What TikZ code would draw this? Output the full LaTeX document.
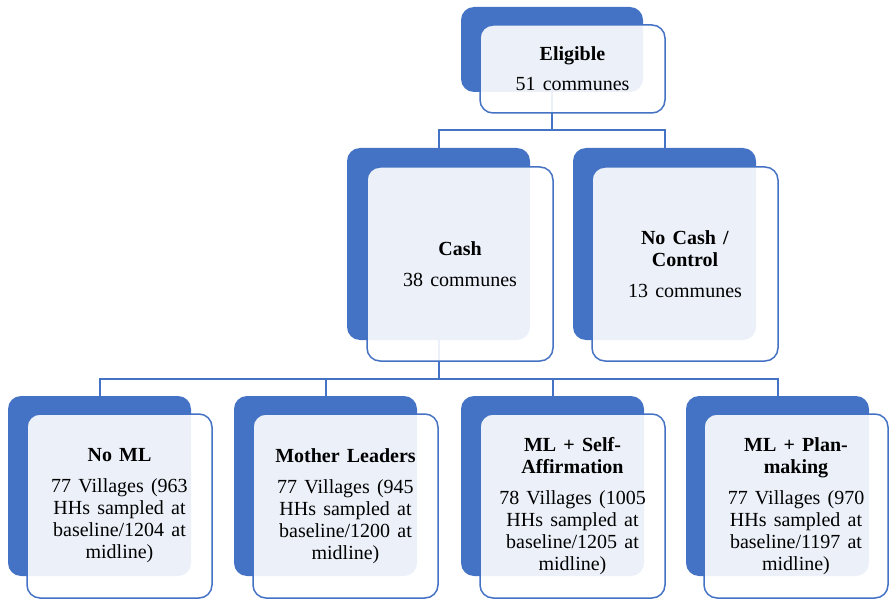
\documentclass[tikz,border=0pt]{standalone}
\usepackage{fontspec}
\setmainfont{Liberation Serif}
\definecolor{myblue}{HTML}{4472C4}
\newcommand\boxfontsetup{\fontsize{20}{22}\selectfont\spaceskip=0.36em\relax}
\begin{document}
\begin{tikzpicture}[x=1pt,y=-1pt,
  bluebox/.style={fill=myblue, rounded corners=13pt, inner sep=0pt, outer sep=0pt, anchor=north west},
  whitebox/.style={draw=myblue, line width=1.5pt, fill=white, fill opacity=0.9, text opacity=1,
    rounded corners=13pt, inner sep=0pt, outer sep=0pt, anchor=north west, align=center,
    font=\boxfontsetup},
  link/.style={draw=myblue, line width=2pt}]
\useasboundingbox (0,0) rectangle (889,599);
% junctions
\coordinate (j1) at (0,130);
\coordinate (j2) at (0,379);
% blue back boxes
\node[bluebox, minimum width=182pt, minimum height=85pt] (topblue) at (461,7) {};
\node[bluebox, minimum width=183pt, minimum height=192pt] (cashblue) at (347,148) {};
\node[bluebox, minimum width=183pt, minimum height=192pt] (ncblue) at (573,148) {};
\node[bluebox, minimum width=183pt, minimum height=180pt] (b1) at (8,396) {};
\node[bluebox, minimum width=183pt, minimum height=180pt] (b2) at (234,396) {};
\node[bluebox, minimum width=183pt, minimum height=180pt] (b3) at (461,396) {};
\node[bluebox, minimum width=183pt, minimum height=180pt] (b4) at (686,396) {};
% connectors
\draw[link] (topblue.south) -- (topblue.south |- j1);
\draw[link] (cashblue.north) |- (j1 -| ncblue.north) -- (ncblue.north);
\draw[link] (cashblue.south) -- (cashblue.south |- j2);
\draw[link] (b1.north) |- (j2 -| b4.north) -- (b4.north);
\draw[link] (b2.north) -- (b2.north |- j2);
\draw[link] (b3.north) -- (b3.north |- j2);
% front boxes
\node[whitebox, minimum width=185pt, minimum height=88pt] (top) at (480,25)
  {\textbf{Eligible}\\[8pt]51 communes};
\node[whitebox, minimum width=186pt, minimum height=194pt] (cash) at (367,167)
  {\textbf{Cash}\\[9pt]38 communes};
\node[whitebox, minimum width=186pt, minimum height=194pt] (nocash) at (592,167)
  {\textbf{No Cash /}\\\textbf{Control}\\[9pt]13 communes};
\node[whitebox, minimum width=185pt, minimum height=184pt] (noml) at (27,414)
  {\textbf{No ML}\\[9pt]77 Villages (963\\HHs sampled at\\baseline/1204 at\\midline)};
\node[whitebox, minimum width=185pt, minimum height=184pt] (ml) at (253,414)
  {\textbf{Mother Leaders}\\[9pt]77 Villages (945\\HHs sampled at\\baseline/1200 at\\midline)};
\node[whitebox, minimum width=185pt, minimum height=184pt] (mlsa) at (480,414)
  {\textbf{ML + Self-}\\\textbf{Affirmation}\\[9pt]78 Villages (1005\\HHs sampled at\\baseline/1205 at\\midline)};
\node[whitebox, minimum width=184pt, minimum height=184pt] (mlpm) at (704,414)
  {\textbf{ML + Plan-}\\\textbf{making}\\[9pt]77 Villages (970\\HHs sampled at\\baseline/1197 at\\midline)};
\end{tikzpicture}
\end{document}
